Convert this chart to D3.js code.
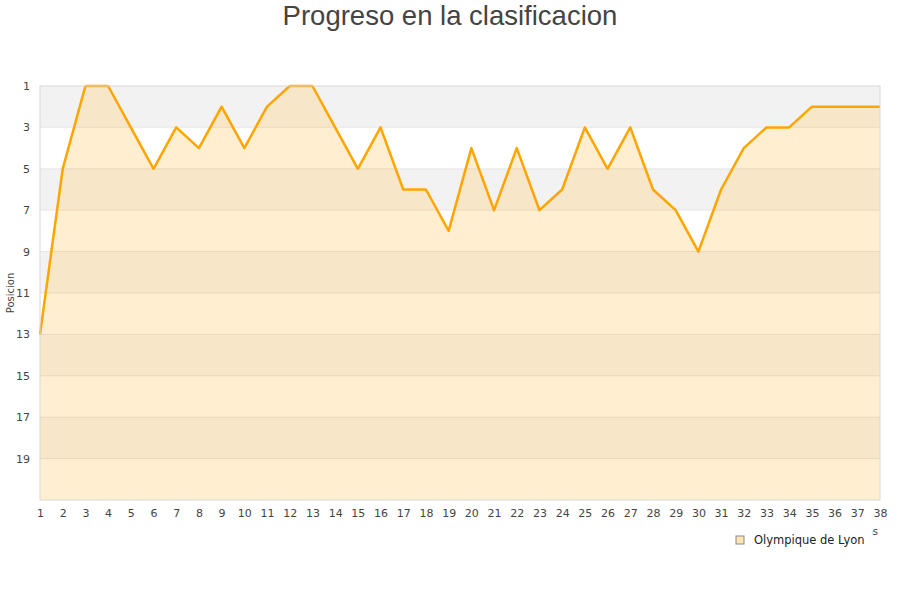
<!DOCTYPE html>
<html>
<head>
<meta charset="utf-8">
<script src="https://cdn.jsdelivr.net/npm/d3@7"></script>
<style>
  body { margin: 0; background: #fff; }
  text { font-family: "DejaVu Sans", sans-serif; }
</style>
</head>
<body>
<div id="chart"></div>
<script>
// rounds (jornadas) and league position of the team after each one
const rounds = d3.range(1, 39);
const positions = [13, 5, 1, 1, 3, 5, 3, 4, 2, 4, 2, 1, 1, 3, 5, 3, 6, 6, 8, 4,
  7, 4, 7, 6, 3, 5, 3, 6, 7, 9, 6, 4, 3, 3, 2, 2, 2, 2];
const yTicks = [1, 3, 5, 7, 9, 11, 13, 15, 17, 19];
const teamName = 'Olympique de Lyon';

const W = 900, H = 600;
const margin = {top: 86, right: 20, bottom: 100, left: 40};
const width = W - margin.left - margin.right;
const height = H - margin.top - margin.bottom;

const svg = d3.select('#chart').append('svg')
  .attr('width', W)
  .attr('height', H);

svg.append('text')
  .attr('x', W / 2)
  .attr('y', 25)
  .attr('text-anchor', 'middle')
  .style('font-family', '"Liberation Sans", Arial, sans-serif')
  .style('font-size', '27.5px')
  .attr('fill', '#444')
  .text('Progreso en la clasificacion');

const g = svg.append('g')
  .attr('transform', `translate(${margin.left}, ${margin.top})`);

const x = d3.scaleLinear().domain([1, 38]).range([0, width]);
const y = d3.scaleLinear().domain([1, 21]).range([0, height]);

// alternating bands, 2 positions each
const bands = d3.range(1, 21, 2);
g.selectAll('.band')
  .data(bands)
  .enter().append('rect')
  .attr('class', 'band')
  .attr('x', 0)
  .attr('width', width)
  .attr('y', d => y(d))
  .attr('height', d => y(d + 2) - y(d))
  .attr('fill', (d, i) => i % 2 ? '#ffffff' : '#f2f2f2');

const data = rounds.map((r, i) => ({round: r, pos: positions[i]}));

g.append('path')
  .datum(data)
  .attr('fill', '#ffd88a')
  .attr('fill-opacity', 0.4)
  .attr('d', d3.area()
    .x(d => x(d.round))
    .y0(height)
    .y1(d => y(d.pos)));

// grid lines
g.selectAll('.grid')
  .data(yTicks.slice(1))
  .enter().append('line')
  .attr('x1', 0).attr('x2', width)
  .attr('y1', d => y(d)).attr('y2', d => y(d))
  .attr('stroke', '#000')
  .attr('stroke-opacity', 0.08);

g.append('path')
  .datum(data)
  .attr('fill', 'none')
  .attr('stroke', '#ffa500')
  .attr('stroke-width', 2.5)
  .attr('stroke-linejoin', 'round')
  .attr('d', d3.line()
    .x(d => x(d.round))
    .y(d => y(d.pos)));

// plot border drawn over the line, as in the original
g.append('rect')
  .attr('width', width)
  .attr('height', height)
  .attr('fill', 'none')
  .attr('stroke', '#d8d8d8');

const yAxis = d3.axisLeft(y).tickValues(yTicks).tickSize(0).tickPadding(10);
const xAxis = d3.axisBottom(x).tickValues(rounds).tickSize(0).tickPadding(9);

g.append('g').call(yAxis)
  .call(s => s.select('.domain').remove())
  .selectAll('text').attr('fill', '#444').style('font-size', '11px');

g.append('g').attr('transform', `translate(0, ${height})`).call(xAxis)
  .call(s => s.select('.domain').remove())
  .selectAll('text').attr('fill', '#444').style('font-size', '11px');

svg.append('text')
  .attr('transform', `translate(14, ${margin.top + height / 2}) rotate(-90)`)
  .attr('text-anchor', 'middle')
  .attr('fill', '#444')
  .style('font-size', '10px')
  .text('Posicion');

svg.append('text')
  .attr('x', margin.left + width - 2)
  .attr('y', 535)
  .attr('text-anchor', 'end')
  .attr('fill', '#444')
  .style('font-size', '10px')
  .text('Jornadas');

// legend (covers most of the axis title, like the original)
const legend = svg.append('g').attr('transform', 'translate(728, 525)');
legend.append('rect')
  .attr('width', 144).attr('height', 30)
  .attr('fill', '#fff');
legend.append('rect')
  .attr('x', 8).attr('y', 11)
  .attr('width', 8).attr('height', 8)
  .attr('fill', '#ffe6b0')
  .attr('stroke', '#888');
legend.append('text')
  .attr('x', 26).attr('y', 19)
  .attr('fill', '#222')
  .style('font-size', '11.5px')
  .text(teamName);
</script>
</body>
</html>
